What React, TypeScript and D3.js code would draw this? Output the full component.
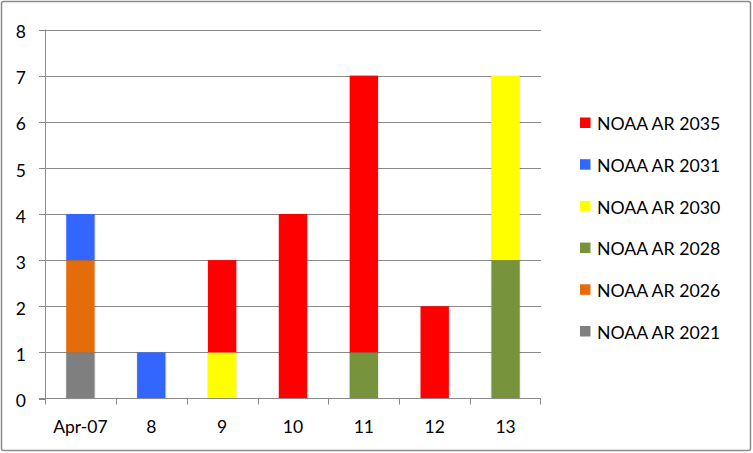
import React from "react";
import * as d3 from "d3";

const categories = ["Apr-07", "8", "9", "10", "11", "12", "13"];
const seriesNames = ["NOAA AR 2021", "NOAA AR 2026", "NOAA AR 2028", "NOAA AR 2030", "NOAA AR 2031", "NOAA AR 2035"];
const ar2021 = [1, 0, 0, 0, 0, 0, 0];
const ar2026 = [2, 0, 0, 0, 0, 0, 0];
const ar2028 = [0, 0, 0, 0, 1, 0, 3];
const ar2030 = [0, 0, 1, 0, 0, 0, 4];
const ar2031 = [1, 1, 0, 0, 0, 0, 0];
const ar2035 = [0, 0, 2, 4, 6, 2, 0];
const seriesColors = ["#7F7F7F", "#E46C0A", "#77933C", "#FFFF00", "#3366FF", "#FF0000"];
const yTicks = [0, 1, 2, 3, 4, 5, 6, 7, 8];

const W = 753, H = 453;
const plot = { left: 45, right: 541, top: 29.5, bottom: 398.5 };
const FONT = "Lato, 'Liberation Sans', sans-serif";

export default function App() {
  const allSeries = [ar2021, ar2026, ar2028, ar2030, ar2031, ar2035];
  const table = categories.map((c, i) => {
    const row: any = { cat: c };
    seriesNames.forEach((s, k) => (row[s] = allSeries[k][i]));
    return row;
  });
  const stack = d3.stack<any>().keys(seriesNames)(table);
  const x = d3.scaleBand().domain(categories).range([plot.left, plot.right]).paddingInner(0.6).paddingOuter(0.3);
  const xb = d3.scaleBand().domain(categories).range([plot.left, plot.right]);
  const y = d3.scaleLinear().domain([0, 8]).range([plot.bottom, plot.top]);

  const legendOrder = [...seriesNames].reverse();
  const legendY = d3.scalePoint().domain(legendOrder).range([124, 332.5]);

  return (
    <svg width={W} height={H} style={{ position: "absolute", left: 0, top: 0 }}>
      <rect x={1.5} y={1.5} width={749} height={449} fill="#fff" stroke="#8c8c8c" strokeWidth={1.5} rx={2} />
      {yTicks.map((t) => (
        <g key={t}>
          {t > 0 && <line x1={plot.left} x2={plot.right} y1={Math.round(y(t)) + 0.5} y2={Math.round(y(t)) + 0.5} stroke="#8a8a8a" strokeWidth={1} />}
          <line x1={plot.left - 6} x2={plot.left} y1={Math.round(y(t)) + 0.5} y2={Math.round(y(t)) + 0.5} stroke="#8a8a8a" />
          <text x={26} y={y(t) + 2.5} dy="0.35em" textAnchor="end" fontFamily={FONT} fontSize={17.5} fill="#000">{t}</text>
        </g>
      ))}
      {stack.map((layer, k) =>
        layer.map((d, i) =>
          d[1] - d[0] > 0 ? (
            <g key={`${k}-${i}`}>
              <rect x={(x(categories[i]) as number) - 1} y={y(d[1])} width={x.bandwidth() + 2.5} height={y(d[0]) - y(d[1]) + 1} fill="#000" opacity={0.06} />
              <rect x={x(categories[i]) as number} y={y(d[1])} width={x.bandwidth()} height={y(d[0]) - y(d[1])} fill={seriesColors[k]} />
            </g>
          ) : null
        )
      )}
      <line x1={plot.left + 0.5} x2={plot.left + 0.5} y1={plot.top} y2={plot.bottom} stroke="#8a8a8a" />
      <line x1={plot.left - 6} x2={plot.right} y1={plot.bottom} y2={plot.bottom} stroke="#8a8a8a" />
      {categories.map((c) => (
        <line key={"t" + c} x1={Math.round(xb(c) as number) + 0.5} x2={Math.round(xb(c) as number) + 0.5} y1={plot.bottom} y2={plot.bottom + 6} stroke="#8a8a8a" />
      ))}
      <line x1={plot.right - 0.5} x2={plot.right - 0.5} y1={plot.bottom} y2={plot.bottom + 6} stroke="#8a8a8a" />
      {categories.map((c) => (
        <text key={"l" + c} x={(xb(c) as number) + xb.bandwidth() / 2} y={433} textAnchor="middle" fontFamily={FONT} fontSize={17.5} fill="#000">{c}</text>
      ))}
      {legendOrder.map((s) => {
        const k = seriesNames.indexOf(s);
        const cy = legendY(s) as number;
        return (
          <g key={s}>
            <rect x={580} y={cy - 6.5} width={10.5} height={10.5} fill={seriesColors[k]} />
            <text x={597} y={cy} dy="0.35em" fontFamily={FONT} fontSize={17.7} fill="#000">{s}</text>
          </g>
        );
      })}
    </svg>
  );
}
